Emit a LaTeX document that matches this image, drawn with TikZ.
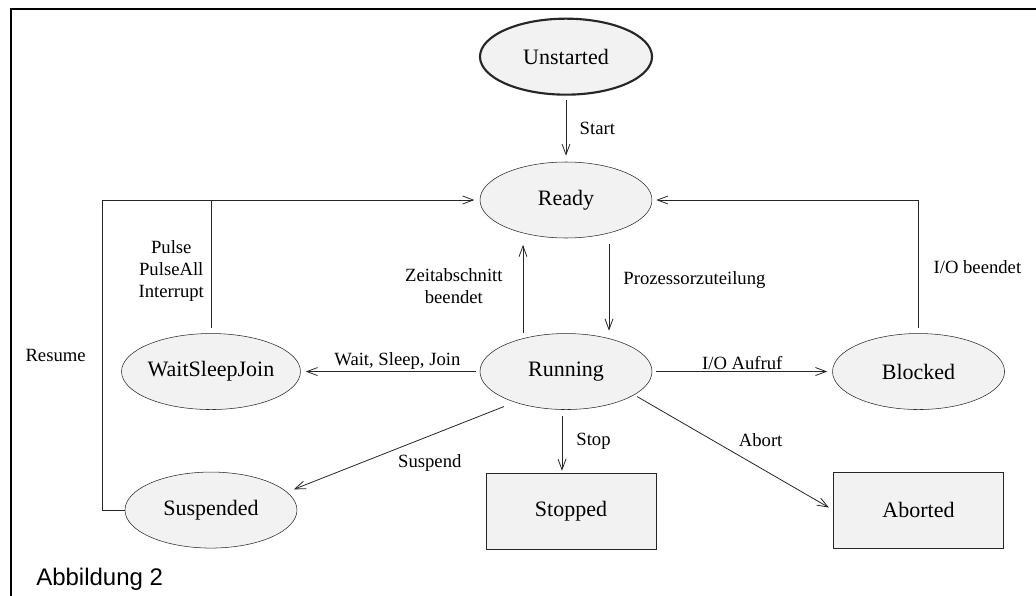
\documentclass[tikz,border=0pt]{standalone}
\usepackage{fontspec}
\setmainfont{Liberation Serif}
\newfontfamily\capfont{Liberation Sans}
\usepackage{tikz}
\usetikzlibrary{positioning,arrows.meta,shapes.geometric}

\begin{document}
\begin{tikzpicture}[x=0.75pt, y=-0.75pt,
  node distance=46.5pt and 134.25pt,
  state/.style={draw=black!85, ellipse, fill=black!5, inner sep=0pt, minimum width=129pt, minimum height=57pt,
                font=\fontsize{16.5}{20}\selectfont},
  final/.style={draw=black!85, rectangle, fill=black!5, inner sep=0pt, minimum width=127.5pt, minimum height=57pt,
                font=\fontsize{16.5}{20}\selectfont},
  arrow/.style={-{Straight Barb[length=8pt,width=6pt]}, line width=0.6pt, draw=black!85},
  link/.style={line width=0.6pt, draw=black!85},
  lab/.style={font=\fontsize{14}{16.5}\selectfont, inner sep=1pt, align=center}]
\useasboundingbox (0,0) rectangle (1036,596);
\draw[line width=1.5pt] (11.3,596) -- (11.3,9) -- (1036,9);
\node[state] (ready) at (566,200) {Ready};
\node[state, line width=1.6pt, above=49.5pt of ready] (unstarted) {Unstarted};
\node[state, below=71.25pt of ready] (running) {Running};
\node[state, left=of running] (wsj) {WaitSleepJoin};
\node[state, right=135pt of running] (blocked) {Blocked};
\node[state, below=of wsj] (suspended) {Suspended};
\node[final, below=47.25pt of running, xshift=3.75pt] (stopped) {Stopped};
\node[final, below=of blocked] (aborted) {Aborted};
\node[anchor=base west, inner sep=0pt, font={\capfont\fontsize{18}{21}\selectfont}] (caption) at (36,585) {Abbildung 2};
\draw[arrow, shorten <=3.5pt, shorten >=4.5pt] (unstarted) -- node[lab, right=9pt] {Start} (ready);
\draw[arrow, shorten <=4.5pt, shorten >=2pt] ([xshift=32.25pt]ready.south) -- node[lab, right=9.5pt, yshift=4pt] {Prozessorzuteilung} ([xshift=32.25pt]running.north);
\draw[arrow, shorten >=5pt] ([xshift=-32.25pt]running.north) -- node[lab, left=14pt] {Zeitabschnitt\\beendet} ([xshift=-32.25pt]ready.south);
\draw[arrow, shorten <=3pt, shorten >=3.75pt] (running) -- node[lab, above, pos=0.46] {Wait, Sleep, Join} (wsj);
\draw[arrow, shorten <=3pt, shorten >=3.75pt] (running) -- node[lab, above] {I/O Aufruf} (blocked);
\draw[arrow, shorten <=4pt, shorten >=3pt] (blocked.north) |- node[lab, right=10pt, pos=0.25] {I/O beendet} (ready.east);
\draw[link, shorten <=4pt] (wsj.north) -- node[lab, left=4pt, yshift=-3pt] {Pulse\\PulseAll\\Interrupt} (wsj.north |- ready.west);
\draw[arrow, shorten >=4pt] (suspended.west) -- ++(-16.5pt,0) |- node[lab, left=11.5pt, pos=0.25] {Resume} (ready.west);
\draw[arrow, shorten >=1.5pt] ([shift={(-46.5pt,-26.25pt)}]running.center) -- node[lab, pos=0.35, below=13pt] {Suspend} ([shift={(60.75pt,15pt)}]suspended.center);
\draw[arrow, shorten <=4.5pt, shorten >=1.5pt] ([xshift=-3pt]running.south) -- node[lab, right=9.5pt] {Stop} ([xshift=-3pt]running.south |- stopped.north);
\draw[arrow, shorten >=3.75pt] ([shift={(53.25pt,-18.75pt)}]running.center) -- node[lab, pos=0.63, above=15pt] {Abort} (aborted.west);
\end{tikzpicture}
\end{document}
